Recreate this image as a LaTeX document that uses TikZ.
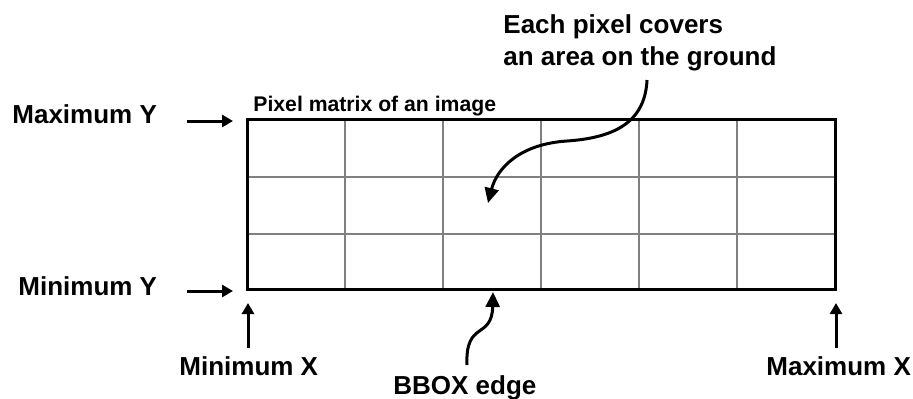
\documentclass[tikz,border=0pt]{standalone}
\usepackage{fontspec}
\setmainfont{Liberation Sans}
\usetikzlibrary{arrows.meta}
\definecolor{gridline}{HTML}{808080}
\definecolor{ink}     {HTML}{000000}

\begin{document}
\begin{tikzpicture}[x=0.5pt, y=-0.5pt, font=\bfseries\fontsize{13}{16}\selectfont,
    lbl/.style={inner sep=0pt, anchor=base west, text=ink},
    pointer/.style={-{Triangle[length=5.5pt, width=6pt]}, line width=1.5pt, draw=ink},
    bentpointer/.style={pointer, -{Triangle[length=7.5pt, width=7pt]}}]
  \useasboundingbox (0,0) rectangle (913,398);
  % pixel matrix
  \coordinate (sw) at (247,289);
  \coordinate (ne) at (835,119);
  \foreach \i in {1,...,5}
    \draw[gridline, line width=1pt] (247+98*\i,119) -- (247+98*\i,289);
  \foreach \j in {177,234}
    \draw[gridline, line width=1pt] (247,\j) -- (835,\j);
  \draw[ink, line width=1.5pt] (sw) rectangle (ne);
  \node[lbl, font=\bfseries\fontsize{10.6}{12}\selectfont] (title) at (253,111) {Pixel matrix of an image};
  % extent labels
  \node[lbl] (maxy) at (12,123) {Maximum Y};
  \node[lbl] (miny) at (18,295) {Minimum Y};
  \node[lbl] (minx) at (179,375) {Minimum X};
  \node[lbl] (maxx) at (766,375) {Maximum X};
  \node[lbl] (bbox) at (393,394) {BBOX edge};
  \node[inner sep=0pt, anchor=north west, align=left, text=ink] (cover) at (503,14) {Each pixel covers\\an area on the ground};
  % arrow ends
  \coordinate (maxy from) at (187,121);
  \coordinate (maxy to)   at (233,121);
  \coordinate (miny from) at (187,291);
  \coordinate (miny to)   at (233,291);
  \coordinate (minx from) at (248,348);
  \coordinate (minx to)   at (248,303);
  \coordinate (maxx from) at (836,348);
  \coordinate (maxx to)   at (836,303);
  \coordinate (bbox from) at (467,365);
  \coordinate (bbox to)   at (493,292);
  \coordinate (cover from) at (647,80);
  \coordinate (cover mid)  at (567,141);
  \coordinate (cover to)   at (488,203);
  \draw[pointer] (maxy from) -- (maxy to);
  \draw[pointer] (miny from) -- (miny to);
  \draw[pointer] (minx from) -- (minx to);
  \draw[pointer] (maxx from) -- (maxx to);
  \draw[bentpointer] (bbox from) .. controls (465,320) and (492,340) .. (bbox to);
  \draw[bentpointer] (cover from) .. controls (645,125) and (610,138) .. (cover mid)
    .. controls (520,144) and (497,168) .. (cover to);
\end{tikzpicture}
\end{document}
